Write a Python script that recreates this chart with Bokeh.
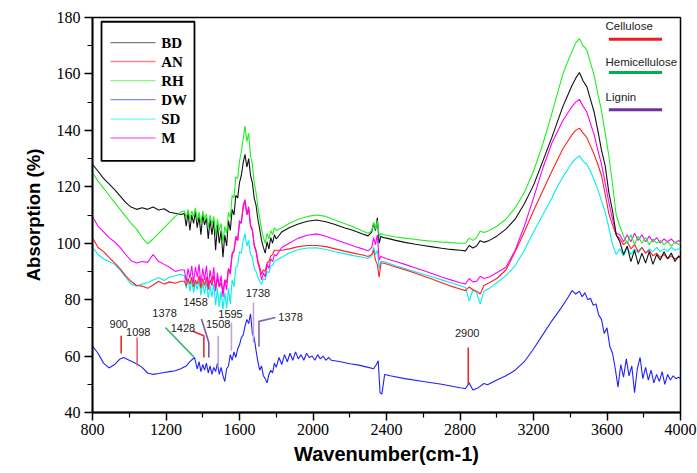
from bokeh.plotting import figure
from bokeh.models import Range1d, FixedTicker, Label, BoxAnnotation
from bokeh.embed import file_html
from bokeh.resources import INLINE

# ---------------- data ----------------
wn = [800, 830, 860, 890, 920, 950, 980, 1010, 1040, 1070, 1100, 1130, 1160, 1190, 1220, 1250, 1280,
      1300, 1310, 1320, 1330, 1340, 1350, 1360, 1370, 1380, 1390,
      1400, 1410, 1420, 1430, 1440, 1450, 1460, 1470, 1480, 1490,
      1500, 1510, 1520, 1530, 1540, 1550, 1560, 1570, 1580, 1590,
      1600, 1610, 1620, 1630, 1640, 1650, 1660, 1670, 1680, 1690,
      1700, 1710, 1720, 1730, 1740, 1750, 1760, 1770, 1780, 1790, 1800,
      1830, 1870, 1920, 1970, 2020, 2070, 2120, 2170, 2220, 2270, 2300,
      2320, 2330, 2340, 2350, 2360, 2370, 2380, 2400,
      2450, 2500, 2550, 2600, 2650, 2700, 2750, 2800, 2830, 2850, 2870, 2890, 2910, 2930, 2960, 3000,
      3050, 3100, 3150, 3200, 3250, 3300, 3330, 3360, 3390, 3410, 3430, 3450, 3470, 3490, 3510, 3530, 3550,
      3570, 3590, 3610, 3630, 3650, 3670, 3690, 3710, 3730, 3750, 3770, 3790, 3810, 3830, 3850, 3870,
      3890, 3910, 3930, 3950, 3970, 3990, 4000]

bd = [128.0, 125.5, 123.0, 121.0, 119.0, 116.8, 114.5, 112.8, 112.0, 112.6, 112.0, 112.8, 111.8, 112.2, 111.0, 110.6, 110.2,
      110.5, 106.0, 111.0, 104.5, 110.0, 107.0, 111.2, 105.5, 109.5, 103.0,
      110.0, 106.5, 109.0, 101.5, 108.5, 103.0, 108.0, 97.5, 106.5, 100.0,
      104.5, 95.0, 103.0, 99.0, 108.0, 104.5, 112.0, 110.0, 117.0, 116.0,
      121.5, 124.0, 128.5, 131.5, 127.0, 130.0, 124.0, 121.5, 116.0, 113.5,
      108.5, 105.0, 101.0, 98.5, 96.5, 100.5, 98.0, 102.0, 100.0, 103.0, 101.5,
      104.0, 105.5, 106.8, 107.8, 108.2, 107.6, 106.6, 105.5, 104.5, 103.3, 102.6,
      104.0, 107.0, 104.5, 109.0, 100.0, 102.5, 102.0, 101.8,
      101.0, 100.3, 99.7, 99.2, 98.7, 98.2, 97.8, 97.5, 97.3, 99.2, 98.3, 99.0, 100.9, 100.3, 101.0, 102.5,
      105.0, 108.5, 114.0, 120.5, 129.0, 137.5, 143.0, 148.5, 153.0, 156.0, 158.5, 160.5, 157.5, 155.5, 151.0, 146.5, 140.0,
      133.0, 127.5, 118.0, 111.5, 103.0, 100.5, 96.0, 99.0, 93.5, 97.5, 92.5, 96.5, 93.0, 97.0, 92.5, 96.0,
      94.0, 97.0, 94.5, 96.5, 93.5, 95.5, 95.0]

an = [102.0, 98.5, 97.0, 95.0, 93.0, 91.0, 88.5, 86.5, 85.0, 84.8, 84.0, 85.2, 86.5, 85.5, 86.3, 85.8, 86.5,
      86.5, 85.0, 87.5, 85.5, 88.0, 84.5, 87.0, 85.5, 88.5, 84.0,
      87.5, 85.0, 88.0, 83.5, 87.0, 85.0, 88.5, 84.0, 87.5, 84.5,
      86.0, 82.5, 87.0, 86.0, 91.0, 90.0, 96.0, 97.0, 101.5, 101.0,
      107.0, 107.5, 112.5, 115.0, 110.0, 112.0, 106.0, 104.5, 99.5, 97.5,
      94.0, 91.5, 89.0, 90.5, 90.0, 93.0, 93.5, 95.5, 96.0, 97.5, 97.5,
      97.5, 98.0, 98.8, 99.2, 99.2, 98.8, 98.0, 97.2, 96.5, 95.8, 95.3,
      96.0, 97.5, 94.0, 92.5, 88.0, 93.0, 93.0, 92.6,
      91.6, 90.6, 89.5, 88.4, 87.2, 86.0, 84.8, 83.8, 83.2, 84.5, 83.5, 83.0, 82.0, 85.0, 86.0, 87.5,
      90.5, 97.0, 104.0, 111.5, 118.5, 125.5, 129.5, 133.5, 136.5, 138.5, 140.0, 140.8, 139.0, 137.5, 134.5, 131.5, 128.0,
      124.0, 117.5, 110.5, 106.5, 103.0, 101.5, 99.5, 100.5, 98.0, 99.5, 97.0, 98.5, 96.5, 97.5, 95.5, 96.5,
      95.0, 96.0, 94.5, 95.5, 94.5, 95.0, 94.8]

rh = [125.0, 122.0, 119.5, 117.0, 114.5, 112.0, 109.5, 107.0, 105.0, 102.0, 99.8, 101.5, 103.5, 105.5, 107.5, 109.5, 111.0,
      111.5, 109.0, 112.0, 108.5, 111.5, 109.5, 112.5, 108.0, 111.0, 107.0,
      111.5, 108.5, 110.5, 105.5, 110.0, 106.5, 109.5, 103.0, 108.5, 104.5,
      107.0, 100.0, 106.0, 103.5, 111.0, 109.0, 117.0, 116.0, 123.5, 123.0,
      129.0, 132.5, 137.0, 141.5, 136.0, 139.0, 131.0, 128.0, 121.5, 118.0,
      113.0, 109.0, 105.0, 102.0, 100.0, 103.5, 101.5, 104.5, 103.0, 105.5, 104.5,
      105.5, 107.0, 108.5, 109.5, 110.0, 109.5, 108.2, 107.0, 105.8, 104.3, 103.5,
      104.5, 107.5, 105.0, 108.0, 102.5, 103.5, 103.0, 102.8,
      102.2, 101.8, 101.4, 101.0, 100.7, 100.4, 100.2, 100.0, 100.0, 101.8, 101.0, 102.0, 104.3, 103.8, 104.5, 106.0,
      108.5, 112.5, 118.0, 125.5, 135.0, 146.0, 153.0, 160.0, 165.0, 168.0, 171.0, 172.5, 170.0, 168.5, 164.0, 159.5, 153.0,
      147.0, 139.0, 131.0, 121.0, 110.0, 106.0, 102.5, 100.0, 103.0, 99.5, 102.5, 100.0, 102.0, 99.5, 101.5, 100.0,
      101.0, 99.5, 100.5, 99.0, 100.5, 99.5, 100.0]

sd = [98.5, 96.0, 94.5, 93.5, 92.5, 90.5, 88.0, 85.5, 84.8, 85.5, 86.0, 87.0, 87.8, 86.8, 88.0, 88.5, 89.0,
      88.5, 84.0, 87.5, 83.0, 87.0, 82.5, 86.5, 83.5, 87.0, 81.5,
      86.0, 82.0, 86.5, 80.5, 85.0, 81.0, 85.5, 78.0, 84.0, 77.5,
      83.0, 76.5, 82.5, 77.0, 84.0, 78.5, 87.0, 84.5, 91.5, 92.0,
      97.0, 96.5, 101.0, 103.5, 99.0, 101.0, 96.0, 95.0, 91.0, 90.0,
      88.0, 86.5, 85.5, 87.5, 87.0, 90.0, 89.5, 92.0, 92.0, 93.5, 94.0,
      95.0, 96.5, 97.8, 98.3, 98.4, 97.8, 97.0, 96.3, 95.6, 95.0, 94.6,
      95.5, 98.5, 96.0, 97.5, 91.0, 93.5, 93.5, 93.2,
      92.0, 91.0, 90.0, 89.0, 88.0, 87.0, 86.0, 85.0, 84.3, 79.5, 83.5, 82.5, 78.5, 83.0, 84.0, 86.0,
      88.5, 92.0, 97.5, 104.0, 110.0, 116.0, 120.0, 123.5, 126.5, 128.5, 130.0, 131.0, 129.0, 128.0, 125.5, 122.5, 119.0,
      115.0, 111.0, 105.5, 99.5, 96.0, 98.0, 95.5, 98.5, 96.0, 98.0, 96.5, 98.5, 96.5, 98.0, 97.0, 98.5,
      97.0, 98.0, 97.0, 98.5, 97.5, 98.0, 97.8]

m = [109.5, 106.0, 104.0, 102.0, 100.5, 98.5, 96.0, 93.8, 93.0, 93.5, 93.2, 96.0, 93.5, 92.5, 91.5, 90.0, 90.5,
     90.5, 86.5, 91.0, 87.5, 92.0, 86.0, 91.5, 88.0, 92.5, 85.5,
     91.0, 87.0, 92.0, 84.5, 90.5, 86.0, 91.5, 83.0, 89.5, 84.5,
     88.5, 81.0, 87.0, 83.5, 91.0, 89.0, 96.5, 97.5, 102.5, 101.0,
     108.0, 107.0, 113.5, 115.5, 110.5, 113.0, 106.5, 105.0, 99.0, 97.0,
     93.0, 90.5, 87.0, 89.5, 88.0, 92.5, 91.0, 94.5, 93.5, 96.0, 95.5,
     98.5, 100.0, 101.8, 102.8, 103.3, 102.5, 101.3, 100.2, 99.0, 98.0, 97.3,
     98.5, 102.0, 99.5, 103.0, 94.0, 95.5, 95.0, 94.5,
     93.5, 92.5, 91.4, 90.3, 89.2, 88.0, 87.0, 86.0, 85.6, 87.5, 86.3, 86.5, 88.3, 87.5, 88.0, 89.5,
     91.5, 97.5, 106.0, 116.0, 126.5, 135.5, 139.5, 143.5, 146.5, 148.5, 150.0, 151.0, 148.5, 146.5, 142.5, 138.5, 133.0,
     128.0, 121.5, 114.5, 108.5, 103.5, 103.0, 100.5, 103.0, 100.5, 103.5, 101.0, 103.0, 100.5, 102.5, 100.5, 102.0,
     100.0, 101.5, 100.5, 101.5, 100.0, 101.0, 100.5]

dw_wn = [800, 830, 860, 890, 920, 950, 970, 1000, 1040, 1070, 1100, 1130, 1160, 1190, 1220, 1250, 1280, 1310, 1330, 1355,
         1370, 1380, 1390, 1400, 1410, 1420, 1430, 1440, 1450, 1460,
         1470, 1480, 1490, 1500, 1510, 1520, 1530, 1540, 1550, 1560,
         1570, 1580, 1590, 1600, 1610, 1620, 1630, 1640, 1650, 1660,
         1670, 1680, 1690, 1700, 1710, 1720, 1730, 1740, 1750, 1760,
         1770, 1780, 1790, 1800,
         1815, 1830, 1845, 1860, 1875, 1890, 1905, 1920, 1935, 1950, 1965, 1980, 1995, 2010, 2025, 2040, 2055, 2070, 2085, 2100,
         2150, 2200, 2250, 2300, 2330, 2345, 2355, 2365, 2375, 2390, 2420, 2500, 2600, 2700, 2800, 2830, 2850, 2870, 2900,
         2930, 2950, 3000, 3050, 3100, 3150, 3200, 3250, 3300, 3350, 3390, 3410, 3430, 3450,
         3465, 3480, 3495, 3510, 3525, 3540, 3555, 3570, 3585, 3600, 3615, 3630, 3645, 3660, 3675, 3690, 3705, 3720,
         3735, 3750, 3765, 3780, 3795, 3810, 3825, 3840, 3855, 3870, 3885, 3900, 3915, 3930, 3945, 3960, 3975, 3990, 4000]

dw = [63.5, 61.0, 57.5, 55.8, 57.0, 59.0, 59.5, 58.5, 57.3, 56.0, 54.0, 53.5, 53.8, 54.2, 54.5, 54.8, 55.5, 56.5, 58.0, 59.5,
      55.5, 58.0, 54.5, 57.0, 55.0, 57.5, 54.0, 56.5, 53.5, 56.0,
      54.5, 57.5, 53.5, 56.0, 53.0, 51.0, 55.5, 56.5, 60.5, 58.5,
      61.5, 59.5, 62.5, 64.0, 66.5, 67.5, 70.5, 73.0, 71.5, 75.0,
      68.0, 66.5, 62.0, 58.0, 55.0, 56.5, 53.0, 52.0, 50.5, 53.5,
      55.0, 54.0, 57.5, 56.0,
      59.5, 57.0, 60.5, 58.0, 61.0, 58.5, 61.5, 59.0, 60.5, 58.5, 61.0, 59.5, 60.0, 58.5, 60.5, 59.0, 60.0, 58.5, 59.5, 58.5,
      58.0, 57.3, 56.8, 56.0, 55.5, 57.0, 58.3, 47.0, 46.5, 53.5, 53.0, 52.0, 51.0, 50.0, 48.8, 48.5, 50.5, 48.0, 48.8,
      50.3, 49.8, 51.5, 53.0, 55.0, 58.0, 62.5, 67.5, 72.5, 77.0, 81.0, 83.2, 82.0, 83.0,
      81.0, 82.5, 80.0, 80.5, 78.0, 78.5, 74.5, 73.0, 68.0, 70.0, 63.5, 61.0, 55.5, 49.0, 57.0, 52.5, 59.0, 53.0,
      56.5, 47.0, 55.5, 59.5, 52.0, 56.0, 51.5, 55.0, 50.5, 53.5, 51.0, 54.5, 50.0, 53.5, 51.5, 53.0, 52.0, 52.5, 52.0]

series_names = ["BD", "AN", "RH", "DW", "SD", "M"]

x_ticks = [800, 1200, 1600, 2000, 2400, 2800, 3200, 3600, 4000]
x_minor = [1000, 1400, 1800, 2200, 2600, 3000, 3400, 3800]
y_ticks = [40, 60, 80, 100, 120, 140, 160, 180]
y_minor = [50, 70, 90, 110, 130, 150, 170]

peak_labels = ["900", "1098", "1378", "1428", "1458", "1508", "1595", "1738", "1378", "2900"]
component_labels = ["Cellulose", "Hemicellulose", "Lignin"]

for s in (bd, an, rh, sd, m):
    assert len(s) == len(wn), (len(s), len(wn))
assert len(dw) == len(dw_wn), (len(dw), len(dw_wn))

# ---------------- figure ----------------
p = figure(width=697, height=473, output_backend="svg", toolbar_location=None, title=None,
           x_range=Range1d(800, 4000), y_range=Range1d(40, 180),
           min_border_left=92, min_border_right=17, min_border_top=17, min_border_bottom=61)
p.xgrid.visible = False
p.ygrid.visible = False
p.outline_line_color = "black"
p.outline_line_width = 1.5
p.background_fill_color = "white"
p.border_fill_color = "white"

p.xaxis.ticker = FixedTicker(ticks=x_ticks, minor_ticks=x_minor)
p.yaxis.ticker = FixedTicker(ticks=y_ticks, minor_ticks=y_minor)
for ax in (p.xaxis[0], p.yaxis[0]):
    ax.axis_line_width = 1.8
    ax.axis_line_color = "black"
    ax.major_tick_line_color = "black"
    ax.minor_tick_line_color = "black"
    ax.major_tick_line_width = 1.5
    ax.minor_tick_line_width = 1.2
    ax.major_tick_out = 8
    ax.major_tick_in = 0
    ax.minor_tick_out = 5
    ax.minor_tick_in = 0
    ax.major_label_text_font = "Liberation Serif"
    ax.major_label_text_font_size = "16px"
    ax.major_label_text_color = "black"
    ax.axis_label_text_font = "Liberation Sans"
    ax.axis_label_text_font_style = "bold"
    ax.axis_label_text_color = "black"

p.xaxis.axis_label = "Wavenumber(cm-1)"
p.xaxis.axis_label_text_font_size = "20px"
p.xaxis.major_label_standoff = 3
p.xaxis.axis_label_standoff = 5
p.yaxis.axis_label = "Absorption (%)"
p.yaxis.axis_label_text_font_size = "18.5px"
p.yaxis.major_label_standoff = 4
p.yaxis.axis_label_standoff = 10

colors = {"BD": "#111111", "AN": "#ff2020", "RH": "#22ee22", "DW": "#2020ff", "SD": "#00eeee", "M": "#ff00ff"}
data = {"BD": (wn, bd), "AN": (wn, an), "RH": (wn, rh), "DW": (dw_wn, dw), "SD": (wn, sd), "M": (wn, m)}

for name in ["DW", "SD", "AN", "M", "BD", "RH"]:
    xs, ys = data[name]
    p.line(xs, ys, line_color=colors[name], line_width=1.1)

# ---------------- series key (top left box) ----------------
p.add_layout(BoxAnnotation(left=849, right=1355, top=178.5, bottom=129.2,
                           fill_alpha=0.0, line_color="black", line_width=1.8, line_alpha=1.0))
key_rows = [171.1, 164.4, 157.6, 150.9, 144.0, 137.3]
for name, ky in zip(series_names, key_rows):
    p.line([898, 1143], [ky, ky], line_color=colors[name], line_width=1.3, line_alpha=0.55)
    p.add_layout(Label(x=1174, y=ky, text=name, text_align="left", text_baseline="middle",
                       text_font="Liberation Serif", text_font_style="bold",
                       text_font_size="15px", text_color="black"))

# ---------------- peak annotations ----------------
annots = [
    (943, 71.3, [956, 956], [67.2, 60.9], "#e52b2b"),
    (1049, 68.7, [1043, 1043], [66.6, 56.6], "#f06060"),
    (1192, 75.1, [1197, 1351], [70.1, 59.7], "#3cb878"),
    (1292, 70.1, [1343, 1406, 1406], [68.9, 67.2, 59.5], "#e52b2b"),
    (1361, 79.0, [1393, 1433, 1433], [73.1, 64.8, 59.5], "#7f55a8"),
    (1484, 71.3, [1484, 1484], [67.2, 56.0], "#c0a6d8"),
    (1551, 74.9, [1556, 1556], [71.9, 61.9], "#c0a6d8"),
    (1700, 82.2, [1676, 1676], [79.0, 64.8], "#c0a6d8"),
    (1878, 74.0, [1796, 1706, 1706], [73.7, 72.3, 63.3], "#8a62b0"),
    (2839, 68.1, [2845, 2845], [63.0, 50.0], "#e52b2b"),
]
for txt, (lx, ly, xs, ys, col) in zip(peak_labels, annots):
    p.line(xs, ys, line_color=col, line_width=1.6)
    p.add_layout(Label(x=lx, y=ly, text=txt, text_align="center", text_baseline="middle",
                       text_font="Liberation Sans", text_font_size="11px", text_color="#222222"))

# ---------------- component key (top right) ----------------
comp = [(177.0, 172.3, "#e8202a"), (164.4, 160.5, "#00b050"), (151.9, 147.3, "#7030a0")]
for txt, (ty, ly, col) in zip(component_labels, comp):
    p.add_layout(Label(x=3592, y=ty, text=txt, text_align="left", text_baseline="middle",
                       text_font="Liberation Sans", text_font_size="11.5px", text_color="#222222"))
    p.line([3610, 3900], [ly, ly], line_color=col, line_width=3)

open("out.html", "w").write(file_html(p, INLINE))
